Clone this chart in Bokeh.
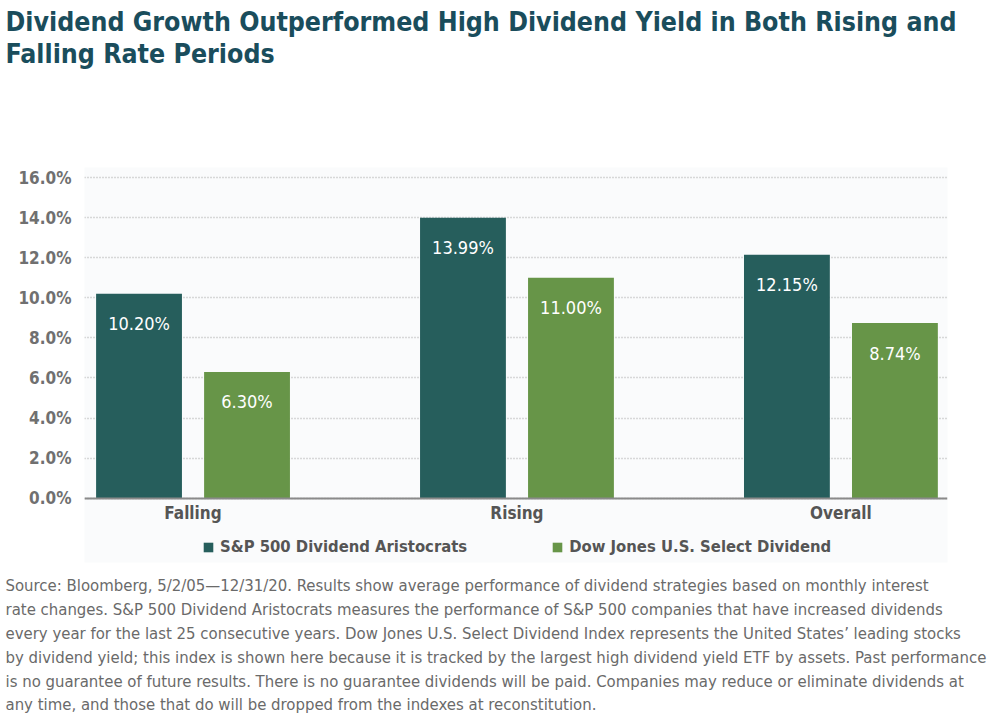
from bokeh.plotting import figure
from bokeh.models import (Range1d, FixedTicker, PrintfTickFormatter, Title, Legend, LegendItem,
                          ColumnDataSource)
from bokeh.core.properties import value
from bokeh.embed import file_html
from bokeh.resources import INLINE

# ---- data ----
categories = ["Falling", "Rising", "Overall"]
aristocrats = [10.20, 13.99, 12.15]
dow_jones = [6.30, 11.00, 8.74]
series_names = ["S&P 500 Dividend Aristocrats", "Dow Jones U.S. Select Dividend"]
y_ticks = [0, 2, 4, 6, 8, 10, 12, 14, 16]

title_lines = ["Dividend Growth Outperformed High Dividend Yield in Both Rising and",
               "Falling Rate Periods"]
note_lines = [
    "Source: Bloomberg, 5/2/05\u201412/31/20. Results show average performance of dividend strategies based on monthly interest",
    "rate changes. S&P 500 Dividend Aristocrats measures the performance of S&P 500 companies that have increased dividends",
    "every year for the last 25 consecutive years. Dow Jones U.S. Select Dividend Index represents the United States\u2019 leading stocks",
    "by dividend yield; this index is shown here because it is tracked by the largest high dividend yield ETF by assets. Past performance",
    "is no guarantee of future results. There is no guarantee dividends will be paid. Companies may reduce or eliminate dividends at",
    "any time, and those that do will be dropped from the indexes at reconstitution.",
]

FONT = "DejaVu Sans Condensed"
DARK = "#265e5c"
GREEN = "#679548"
TITLE_C = "#1a4d5c"

p = figure(width=1000, height=725, output_backend="svg", toolbar_location=None,
           x_range=Range1d(-0.335, 2.329), y_range=Range1d(-3.21, 16.5),
           min_border_left=84, min_border_right=53, min_border_top=0, min_border_bottom=0)
p.outline_line_color = None
p.background_fill_color = "#fafbfc"
p.border_fill_color = "white"

x = list(range(len(categories)))
off = 0.1667
w = 0.265
src = ColumnDataSource(dict(
    x_a=[i - off for i in x], x_d=[i + off for i in x],
    a=aristocrats, d=dow_jones,
    a_lab=["%.2f%%" % v for v in aristocrats], d_lab=["%.2f%%" % v for v in dow_jones]))

r1 = p.vbar(x="x_a", top="a", bottom=0, width=w, source=src, fill_color=DARK, line_color=None)
r2 = p.vbar(x="x_d", top="d", bottom=0, width=w, source=src, fill_color=GREEN, line_color=None)
p.text(x="x_a", y="a", text="a_lab", source=src, text_color="white", text_font=value(FONT),
       text_font_size="18px", text_align="center", text_baseline="middle", y_offset=30)
p.text(x="x_d", y="d", text="d_lab", source=src, text_color="white", text_font=value(FONT),
       text_font_size="18px", text_align="center", text_baseline="middle", y_offset=30)

# axes
p.yaxis.ticker = FixedTicker(ticks=y_ticks)
p.yaxis.formatter = PrintfTickFormatter(format="%.1f%%")
p.yaxis.axis_line_color = None
p.yaxis.major_tick_line_color = None
p.yaxis.minor_tick_line_color = None
p.yaxis.major_tick_in = 0
p.yaxis.major_tick_out = 0
p.yaxis.major_label_text_font = FONT
p.yaxis.major_label_text_font_style = "bold"
p.yaxis.major_label_text_font_size = "17px"
p.yaxis.major_label_text_color = "#707070"
p.yaxis.major_label_standoff = 13

p.xaxis.fixed_location = 0
p.xaxis.ticker = FixedTicker(ticks=x)
p.xaxis.major_label_overrides = {i: c for i, c in zip(x, categories)}
p.xaxis.axis_line_color = "#8a8a8a"
p.xaxis.axis_line_width = 2
p.xaxis.major_tick_line_color = None
p.xaxis.minor_tick_line_color = None
p.xaxis.major_tick_in = 0
p.xaxis.major_tick_out = 0
p.xaxis.minor_tick_in = 0
p.xaxis.minor_tick_out = 0
p.xaxis.major_label_text_font = FONT
p.xaxis.major_label_text_font_style = "bold"
p.xaxis.major_label_text_font_size = "17px"
p.xaxis.major_label_text_color = "#555555"
p.xaxis.major_label_standoff = 5

p.xgrid.grid_line_color = None
p.ygrid.grid_line_color = "#b5b5b5"
p.ygrid.grid_line_dash = "1 2"
p.ygrid.grid_line_width = 1.5

legend = Legend(items=[LegendItem(label=series_names[0], renderers=[r1]),
                       LegendItem(label=series_names[1], renderers=[r2])],
                orientation="horizontal", location=(118, 6),
                label_text_font=FONT, label_text_font_style="bold", label_text_font_size="16.5px",
                label_text_color="#555555", glyph_width=12, glyph_height=12,
                label_standoff=6, spacing=84, padding=0, margin=0,
                border_line_color=None, background_fill_alpha=0)
p.add_layout(legend)

# spacer between title and chart, then the title on top
p.add_layout(Title(text=" ", text_font_size="1px", standoff=91), "above")
p.add_layout(Title(text="\n".join(title_lines), align="left", offset=-79, standoff=8,
                   text_font=FONT, text_font_style="bold", text_font_size="26.5px",
                   text_line_height=1.04, text_color=TITLE_C), "above")

# footnote
p.add_layout(Title(text="\n".join(note_lines), align="left", offset=-79, standoff=22,
                   text_font=FONT, text_font_style="normal", text_font_size="16.6px",
                   text_line_height=1.26, text_color="#6a6a6a"), "below")

open("out.html", "w").write(file_html(p, INLINE))
